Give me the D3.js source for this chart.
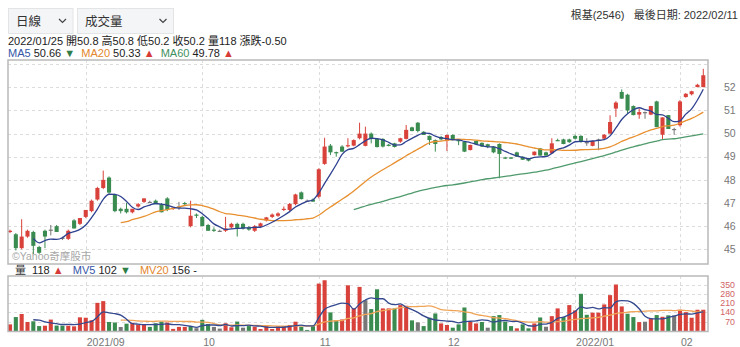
<!DOCTYPE html>
<html>
<head>
<meta charset="utf-8">
<script src="https://cdn.jsdelivr.net/npm/d3@7"></script>
<style>
  body { margin: 0; background: #fff; }
  svg { display: block; font-family: "Liberation Sans", Arial, "Noto Sans CJK TC", sans-serif; }
  text { white-space: pre; }
</style>
</head>
<body>
<svg id="chart" width="740" height="347"></svg>
<script>
// trading days shown, 2021/08/13 - 2022/02/11
const months = ["2021-08", "2021-09", "2021-10", "2021-11", "2021-12", "2022-01", "2022-02"];
const monthLabels = ["", "2021/09", "10", "11", "12", "2022/01", "02"];
const tradingDays = [
  [13, 16, 17, 18, 19, 20, 23, 24, 25, 26, 27, 30, 31],
  [1, 2, 3, 6, 7, 8, 9, 10, 13, 14, 15, 16, 17, 22, 23, 24, 27, 28, 29, 30],
  [1, 4, 5, 6, 7, 8, 12, 13, 14, 15, 18, 19, 20, 21, 22, 25, 26, 27, 28, 29],
  [1, 2, 3, 4, 5, 8, 9, 10, 11, 12, 15, 16, 17, 18, 19, 22, 23, 24, 25, 26, 29, 30],
  [1, 2, 3, 6, 7, 8, 9, 10, 13, 14, 15, 16, 17, 20, 21, 22, 23, 24, 27, 28, 29, 30],
  [3, 4, 5, 6, 7, 10, 11, 12, 13, 14, 17, 18, 19, 20, 21, 24, 25, 26],
  [7, 8, 9, 10, 11]
];

const open = [
  45.75, 45.65, 45.05, 45.55, 45.75, 45.1, 45.8, 45.85, 46.0, 45.5,
  45.45, 46.25, 46.1, 46.4, 46.65, 47.15, 47.65, 48.1, 47.35, 46.75,
  46.75, 46.6, 46.85, 47.05, 47.05, 47.1, 46.95, 47.2, 46.75, 46.85,
  47.0, 46.0, 46.5, 46.4, 46.05, 45.85, 45.8, 45.8, 45.95, 46.1,
  46.1, 45.95, 45.8, 45.98, 46.25, 46.4, 46.45, 46.7, 46.7, 46.95,
  47.46, 47.1, 47.15, 47.27, 48.69, 49.48, 49.2, 49.44, 49.45, 49.48,
  49.8, 49.47, 50.0, 49.77, 49.77, 49.52, 49.58, 49.65, 49.77, 50.27,
  50.47, 50.08, 49.9, 49.72, 49.85, 49.69, 49.94, 49.72, 49.65, 49.29,
  49.68, 49.6, 49.54, 49.44, 49.55, 48.97, 48.97, 49.19, 49.0, 48.93,
  49.07, 49.36, 49.19, 49.15, 49.72, 49.75, 49.75, 49.9, 49.9, 49.63,
  49.47, 49.75, 49.78, 50.0, 51.08, 51.8, 51.68, 51.19, 50.82, 50.93,
  50.82, 51.39, 49.95, 50.8, 50.2, 50.36, 51.58, 51.7, 52.01, 52.01
];
const high = [
  45.85, 45.7, 46.3, 45.85, 45.8, 45.15, 45.85, 46.05, 46.05, 45.55,
  45.85, 46.3, 46.35, 46.7, 47.15, 47.7, 48.4, 48.15, 47.4, 46.8,
  47.0, 46.75, 47.0, 47.2, 47.1, 47.15, 47.0, 47.25, 46.8, 47.05,
  47.05, 47.1, 46.55, 46.45, 46.1, 45.95, 45.85, 46.4, 46.15, 46.15,
  46.15, 46.0, 46.05, 46.15, 46.4, 46.55, 46.6, 46.85, 47.0, 47.4,
  47.5, 47.15, 47.2, 48.5, 49.82, 49.55, 49.22, 49.5, 49.8, 49.75,
  50.47, 50.3, 50.05, 49.8, 49.8, 49.55, 49.6, 49.82, 50.37, 50.3,
  50.5, 50.1, 49.92, 49.75, 49.9, 49.96, 49.97, 49.75, 49.68, 49.52,
  49.7, 49.62, 49.56, 49.46, 49.58, 49.0, 48.99, 49.22, 49.02, 48.95,
  49.23, 49.38, 49.22, 49.8, 49.78, 49.78, 49.78, 49.95, 49.93, 49.8,
  49.7, 49.78, 49.98, 50.79, 51.4, 51.91, 51.72, 51.22, 51.08, 50.95,
  51.2, 51.42, 50.7, 50.8, 50.25, 51.45, 51.75, 51.85, 52.15, 52.8
];
const low = [
  45.7, 44.95, 45.0, 45.5, 44.8, 44.8, 45.05, 45.6, 45.75, 45.4,
  45.4, 45.9, 46.05, 46.35, 46.6, 47.1, 47.6, 47.4, 46.6, 46.55,
  46.55, 46.55, 46.8, 47.0, 47.0, 46.95, 46.6, 46.65, 46.7, 46.7,
  46.9, 45.95, 46.35, 46.0, 45.8, 45.75, 45.75, 45.75, 45.9, 45.55,
  45.85, 45.8, 45.75, 45.95, 46.2, 46.35, 46.4, 46.65, 46.65, 46.9,
  47.15, 47.05, 47.05, 47.2, 48.65, 49.07, 49.0, 49.2, 49.4, 49.45,
  49.75, 49.45, 49.58, 49.4, 49.4, 49.45, 49.4, 49.6, 49.75, 50.1,
  50.05, 49.94, 49.51, 49.22, 49.7, 49.25, 49.7, 49.5, 49.2, 49.27,
  49.52, 49.42, 49.37, 49.15, 48.07, 48.9, 48.9, 49.0, 48.86, 48.8,
  49.05, 49.04, 49.04, 49.13, 49.68, 49.54, 49.6, 49.75, 49.6, 49.47,
  49.45, 49.28, 49.75, 49.98, 50.72, 51.5, 50.86, 50.79, 50.64, 50.64,
  50.8, 50.28, 49.75, 50.2, 49.95, 50.3, 51.55, 51.65, 52.0, 52.0
];
const close = [
  45.8, 45.05, 45.55, 45.8, 45.15, 44.85, 45.55, 45.85, 45.75, 45.5,
  45.8, 45.9, 46.35, 46.7, 47.1, 47.65, 48.0, 47.45, 46.65, 46.65,
  46.6, 46.75, 46.95, 47.2, 47.05, 46.95, 46.6, 46.7, 46.8, 46.85,
  46.95, 46.45, 46.45, 46.0, 45.8, 45.8, 45.8, 45.9, 46.1, 45.9,
  45.9, 45.85, 46.0, 46.12, 46.38, 46.5, 46.55, 46.75, 46.96, 47.37,
  47.17, 47.1, 47.06, 48.46, 49.44, 49.19, 49.18, 49.22, 49.5, 49.72,
  50.0, 50.0, 49.77, 49.42, 49.44, 49.48, 49.42, 49.8, 50.16, 50.11,
  50.11, 49.94, 49.72, 49.55, 49.75, 49.94, 49.72, 49.68, 49.22, 49.51,
  49.54, 49.44, 49.44, 49.19, 49.12, 48.95, 48.92, 49.0, 48.87, 48.83,
  49.22, 49.05, 49.05, 49.58, 49.7, 49.55, 49.63, 49.78, 49.68, 49.63,
  49.68, 49.75, 49.95, 50.5, 51.34, 51.51, 51.0, 50.8, 50.93, 50.93,
  51.19, 50.28, 50.7, 50.2, 50.2, 51.39, 51.72, 51.83, 52.11, 52.52
];
const volume = [
  50, 105, 128, 68, 73, 37, 40, 86, 41, 40,
  40, 35, 103, 100, 81, 212, 225, 68, 64, 30,
  55, 62, 48, 46, 31, 58, 70, 64, 16, 31,
  31, 37, 21, 84, 53, 31, 18, 58, 28, 71,
  25, 37, 32, 15, 37, 15, 37, 37, 45, 70,
  32, 8, 37, 357, 382, 140, 80, 87, 344, 170,
  332, 232, 165, 314, 170, 170, 170, 195, 190, 80,
  65, 37, 100, 132, 57, 45, 25, 50, 177, 70,
  57, 68, 25, 112, 120, 70, 37, 20, 50, 20,
  57, 102, 32, 112, 170, 105, 195, 155, 280, 122,
  138, 138, 200, 270, 350, 185, 130, 105, 67, 70,
  95, 120, 107, 118, 117, 160, 142, 100, 160, 160
];

const priceTicks = [45, 46, 47, 48, 49, 50, 51, 52];
const priceGrid = [45, 46, 47, 48, 49, 50, 51, 52, 53];
const volumeTicks = [70, 140, 210, 280, 350];

// header texts
const stockTitle = "根基(2546)   最後日期: 2022/02/11";
const infoLine = "2022/01/25 開50.8 高50.8 低50.2 收50.2 量118 漲跌-0.50";
const maLegend = [["MA5", "#3556a8"], [" 50.66 ", "#222"], ["▼", "#2f7d47"],
  ["  MA20", "#e3862c"], [" 50.33 ", "#222"], ["▲", "#d63b35"],
  ["  MA60", "#3f8f5e"], [" 49.78 ", "#222"], ["▲", "#d63b35"]];
const volLegend = [["量", "#333"], ["  118 ", "#222"], ["▲", "#d63b35"],
  ["   MV5", "#3556a8"], [" 102 ", "#222"], ["▼", "#2f7d47"],
  ["   MV20", "#e3862c"], [" 156 -", "#222"]];

const RED = "#d9423b", GREEN = "#3a8b50", GRAY = "#777";

// build rows
const dates = [];
months.forEach(function (m, k) {
  tradingDays[k].forEach(function (d) {
    dates.push(m + "-" + String(d).padStart(2, "0"));
  });
});
const rows = dates.map(function (d, i) {
  return { date: d, o: open[i], h: high[i], l: low[i], c: close[i], v: volume[i],
    prev: i > 0 ? close[i - 1] : open[i] };
});

function movingAvg(values, n) {
  return values.map(function (v, i) {
    return i < n - 1 ? null : d3.mean(values.slice(i - n + 1, i + 1));
  });
}
const ma5 = movingAvg(close, 5), ma20 = movingAvg(close, 20), ma60 = movingAvg(close, 60);
const mv5 = movingAvg(volume, 5), mv20 = movingAvg(volume, 20);

// panels
const left = 8, right = 708;
const priceTop = 60, priceBottom = 264;
const volTop = 276, volBottom = 331.5;

const x = d3.scaleBand().domain(dates).range([7.1, 706.2])
  .paddingInner(0.3).paddingOuter(0.15);
const bw = x.bandwidth();
const cx = function (d) { return x(d) + bw / 2; };

const y = d3.scaleLinear().domain([44.365, 53.18]).range([priceBottom, priceTop]);
const yv = d3.scaleLinear().domain([0, 414]).range([331, volTop]);

const svg = d3.select("#chart");

// header dropdowns
[[8, 64.5, "日線"], [77, 96, "成交量"]].forEach(function (b) {
  svg.append("rect")
    .attr("x", b[0] + 0.5).attr("y", 8.5)
    .attr("width", b[1]).attr("height", 25)
    .attr("fill", "#f4f5f7").attr("stroke", "#e3e4e6");
  svg.append("text")
    .attr("x", b[0] + 8).attr("y", 25.5)
    .attr("font-size", 12.5).attr("fill", "#333")
    .text(b[2]);
  var ax = b[0] + b[1] - 10;
  svg.append("path")
    .attr("d", "M" + (ax - 3.5) + ",19 L" + ax + ",22.5 L" + (ax + 3.5) + ",19")
    .attr("fill", "none").attr("stroke", "#444").attr("stroke-width", 1.2);
});

svg.append("text")
  .attr("x", 738).attr("y", 19)
  .attr("text-anchor", "end")
  .attr("font-size", 11).attr("fill", "#333")
  .text(stockTitle);

svg.append("text")
  .attr("x", 8).attr("y", 45)
  .attr("font-size", 11).attr("fill", "#222")
  .text(infoLine);

function legend(xp, yp, parts) {
  var t = svg.append("text").attr("x", xp).attr("y", yp).attr("font-size", 11);
  parts.forEach(function (p) {
    t.append("tspan").attr("fill", p[1]).text(p[0]);
  });
}
legend(8, 57, maLegend);
legend(15, 274, volLegend);

// clip paths
const defs = svg.append("defs");
defs.append("clipPath").attr("id", "clipPrice").append("rect")
  .attr("x", left).attr("y", priceTop).attr("width", right - left).attr("height", priceBottom - priceTop);
defs.append("clipPath").attr("id", "clipVol").append("rect")
  .attr("x", left).attr("y", volTop).attr("width", right - left).attr("height", volBottom - volTop);

// month grid lines
const monthStarts = [];
months.forEach(function (m, k) {
  if (k > 0) monthStarts.push({ date: m + "-" + String(tradingDays[k][0]).padStart(2, "0"), label: monthLabels[k] });
});

const grid = svg.append("g")
  .attr("stroke", "#dcdcdc").attr("stroke-dasharray", "3,3").attr("stroke-width", 1);
grid.selectAll("line.ph").data(priceGrid).join("line")
  .attr("x1", left).attr("x2", right)
  .attr("y1", function (d) { return Math.round(y(d)) + 0.5; })
  .attr("y2", function (d) { return Math.round(y(d)) + 0.5; });
grid.selectAll("line.vh").data(volumeTicks).join("line")
  .attr("x1", left).attr("x2", right)
  .attr("y1", function (d) { return Math.round(yv(d)) + 0.5; })
  .attr("y2", function (d) { return Math.round(yv(d)) + 0.5; });
grid.selectAll("line.pv").data(monthStarts).join("line")
  .attr("x1", function (d) { return Math.round(cx(d.date)) + 0.5; })
  .attr("x2", function (d) { return Math.round(cx(d.date)) + 0.5; })
  .attr("y1", priceTop).attr("y2", priceBottom);
grid.selectAll("line.vv").data(monthStarts).join("line")
  .attr("x1", function (d) { return Math.round(cx(d.date)) + 0.5; })
  .attr("x2", function (d) { return Math.round(cx(d.date)) + 0.5; })
  .attr("y1", volTop).attr("y2", volBottom);

// axes labels
svg.append("g").selectAll("text").data(priceTicks).join("text")
  .attr("x", 724).attr("y", function (d) { return y(d); })
  .attr("dy", "0.35em").attr("font-size", 10.5).attr("fill", "#777")
  .text(function (d) { return d; });
svg.append("g").selectAll("text").data(volumeTicks).join("text")
  .attr("x", 735).attr("y", function (d) { return yv(d); })
  .attr("text-anchor", "end")
  .attr("dy", "0.35em").attr("font-size", 8.8).attr("fill", "#d06464")
  .text(function (d) { return d; });
svg.append("g").selectAll("text").data(monthStarts).join("text")
  .attr("x", function (d) { return cx(d.date) + 1; }).attr("y", 345.5)
  .attr("font-size", 10.5).attr("fill", "#777")
  .text(function (d) { return d.label; });

// watermark
svg.append("text")
  .attr("x", 12).attr("y", 260)
  .attr("font-size", 10.5).attr("fill", "#a8a8a8")
  .text("©Yahoo奇摩股市");

// candles
function candleColor(d) { return d.c > d.o ? RED : d.c < d.o ? GREEN : GRAY; }
const candles = svg.append("g").attr("clip-path", "url(#clipPrice)")
  .selectAll("g").data(rows).join("g");
candles.append("line")
  .attr("x1", function (d) { return cx(d.date); })
  .attr("x2", function (d) { return cx(d.date); })
  .attr("y1", function (d) { return y(d.h); })
  .attr("y2", function (d) { return y(d.l); })
  .attr("stroke", candleColor).attr("stroke-width", 1);
candles.append("rect")
  .attr("x", function (d) { return x(d.date); })
  .attr("width", bw)
  .attr("y", function (d) { return y(Math.max(d.o, d.c)); })
  .attr("height", function (d) { return Math.max(1.2, Math.abs(y(d.o) - y(d.c))); })
  .attr("fill", candleColor);

// moving average lines
function drawLine(values, scale, color, clip) {
  var line = d3.line()
    .defined(function (d) { return d != null; })
    .x(function (d, i) { return cx(dates[i]); })
    .y(function (d) { return scale(d); })
    .curve(d3.curveMonotoneX);
  svg.append("path")
    .datum(values)
    .attr("clip-path", clip)
    .attr("fill", "none").attr("stroke", color).attr("stroke-width", 1.3)
    .attr("d", line);
}
drawLine(ma60, y, "#4f9a6c", "url(#clipPrice)");
drawLine(ma20, y, "#e8902f", "url(#clipPrice)");
drawLine(ma5, y, "#2e4190", "url(#clipPrice)");

// volume bars, coloured by change against previous close
function volColor(d) { return d.c > d.prev ? RED : d.c < d.prev ? GREEN : GRAY; }
svg.append("g").attr("clip-path", "url(#clipVol)")
  .selectAll("rect").data(rows).join("rect")
  .attr("x", function (d) { return x(d.date); })
  .attr("width", bw)
  .attr("y", function (d) { return yv(d.v); })
  .attr("height", function (d) { return yv(0) - yv(d.v); })
  .attr("fill", volColor);
drawLine(mv20, yv, "#f0a458", "url(#clipVol)");
drawLine(mv5, yv, "#34498f", "url(#clipVol)");

// panel borders
[[priceTop, priceBottom], [volTop, volBottom]].forEach(function (p) {
  svg.append("rect")
    .attr("x", left).attr("y", p[0])
    .attr("width", right - left).attr("height", p[1] - p[0])
    .attr("fill", "none").attr("stroke", "#b9b9b9").attr("stroke-width", 1.5);
});
</script>
</body>
</html>
